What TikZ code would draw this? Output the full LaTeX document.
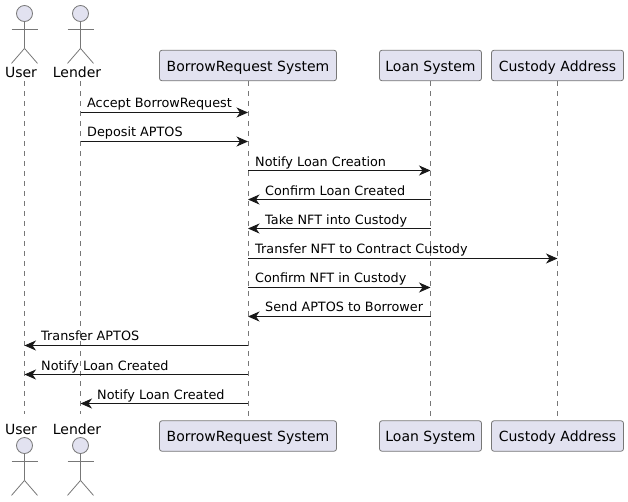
\documentclass[tikz,border=0pt]{standalone}
\usepackage{fontspec}
\setmainfont{DejaVu Sans}
\usetikzlibrary{arrows.meta,calc}
\definecolor{boxfill}{HTML}{E2E2F0}
\definecolor{edge}{HTML}{777777}
\definecolor{ink}{HTML}{181818}
\tikzset{
  partbox/.style={draw=edge,fill=boxfill,rounded corners=2.5pt,line width=0.8pt,minimum height=30.5pt,inner sep=0pt,font=\fontsize{14}{14}\selectfont,text=black,text depth=0pt,text height=11pt},
  actorhead/.style={draw=edge,fill=boxfill,circle,minimum size=16pt,inner sep=0pt,line width=0.8pt},
  actorline/.style={draw=edge,line width=0.8pt},
  actorname/.style={font=\fontsize{14}{14}\selectfont,text=black,inner sep=0pt},
  lifeline/.style={draw=edge,line width=0.8pt,dash pattern=on 5pt off 5pt},
  msg/.style={draw=ink,line width=0.9pt,-{Stealth[length=11.5pt,width=10pt,inset=3.5pt]}},
  msgtext/.style={font=\fontsize{12.8}{12.8}\selectfont,text=black,anchor=base west,inner sep=0pt}
}
\newcommand{\stick}[3]{% name, x, head y
  \node[actorhead] (#1) at (#2,-#3) {};
  \draw[actorline] (#1.south) -- ++(0,-26.5) coordinate (#1hip);
  \draw[actorline] ($(#1.south)+(-13,-7.5)$) -- ++(26,0);
  \draw[actorline] (#1hip) -- ++(-13,-15);
  \draw[actorline] (#1hip) -- ++(13,-15);
}
\begin{document}
\begin{tikzpicture}[x=1pt,y=1pt]
\useasboundingbox (0,0) rectangle (628,-501);
% lifelines first
\coordinate (utop) at (24.5,-81); \coordinate (ubot) at (24.5,-414);
\coordinate (ltop) at (80.5,-81); \coordinate (lbot) at (80.5,-414);
\draw[lifeline] (utop) -- (ubot);
\draw[lifeline] (ltop) -- (lbot);
% participants
\node[partbox,minimum width=177pt] (brtop) at (248,-65.5) {BorrowRequest System};
\node[partbox,minimum width=102pt] (lstop) at (430.5,-65.5) {Loan System};
\node[partbox,minimum width=132pt] (catop) at (557.5,-65.5) {Custody Address};
\node[partbox,minimum width=177pt] (brbot) at (248,-436) {BorrowRequest System};
\node[partbox,minimum width=102pt] (lsbot) at (430.5,-436) {Loan System};
\node[partbox,minimum width=132pt] (cabot) at (557.5,-436) {Custody Address};
\draw[lifeline] (brtop.south) -- (brbot.north);
\draw[lifeline] (lstop.south) -- (lsbot.north);
\draw[lifeline] (catop.south) -- (cabot.north);
% actors
\stick{uhead}{24.5}{13.5}
\stick{lhead}{80.5}{13.5}
\stick{ufoot}{24.5}{445.5}
\stick{lfoot}{80.5}{445.5}
\node[actorname,anchor=base] (utext) at (21,-77.5) {User};
\node[actorname,anchor=base] (ltext) at (77,-77.5) {Lender};
\node[actorname,anchor=base] (ubtext) at (21,-434.5) {User};
\node[actorname,anchor=base] (lbtext) at (77,-434.5) {Lender};
% message rows
\foreach \n/\y in {1/112.5,2/141.5,3/170.5,4/199.5,5/228.5,6/258.5,7/287.5,8/316.5,9/345.5,10/374.5,11/403.5}
  \coordinate (r\n) at (0,-\y);
\draw[msg] (ltop |- r1) -- (brtop |- r1);
\draw[msg] (ltop |- r2) -- (brtop |- r2);
\draw[msg] (brtop |- r3) -- (lstop |- r3);
\draw[msg] (lstop |- r4) -- (brtop |- r4);
\draw[msg] (lstop |- r5) -- (brtop |- r5);
\draw[msg] (brtop |- r6) -- (catop |- r6);
\draw[msg] (brtop |- r7) -- (lstop |- r7);
\draw[msg] (lstop |- r8) -- (brtop |- r8);
\draw[msg] (brtop |- r9) -- (utop |- r9);
\draw[msg] (brtop |- r10) -- (utop |- r10);
\draw[msg] (brtop |- r11) -- (ltop |- r11);
% message labels
\node[msgtext] (t1) at (87,-107.5) {Accept BorrowRequest};
\node[msgtext] (t2) at (87,-136.5) {Deposit APTOS};
\node[msgtext] (t3) at (255,-166) {Notify Loan Creation};
\node[msgtext] (t4) at (265,-195) {Confirm Loan Created};
\node[msgtext] (t5) at (265,-224) {Take NFT into Custody};
\node[msgtext] (t6) at (255,-253) {Transfer NFT to Contract Custody};
\node[msgtext] (t7) at (255,-282) {Confirm NFT in Custody};
\node[msgtext] (t8) at (265,-311) {Send APTOS to Borrower};
\node[msgtext] (t9) at (41,-340) {Transfer APTOS};
\node[msgtext] (t10) at (41,-370) {Notify Loan Created};
\node[msgtext] (t11) at (97,-399) {Notify Loan Created};
\end{tikzpicture}
\end{document}
